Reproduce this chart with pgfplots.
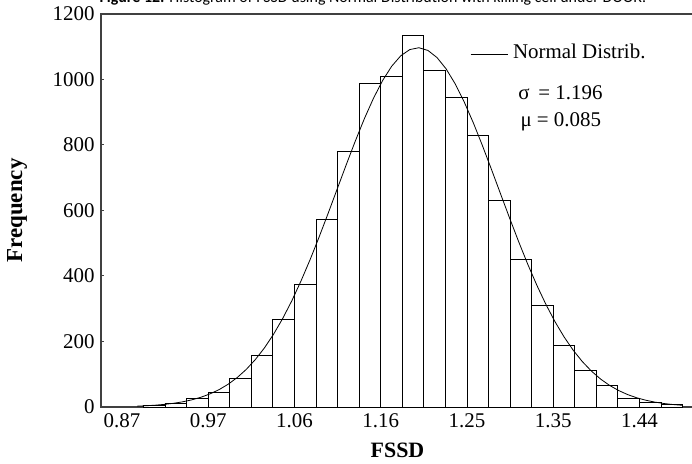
\documentclass[border=0pt]{standalone}
\usepackage{pgfplots}
\pgfplotsset{compat=1.18}
\usepackage{fontspec}
\setmainfont{Liberation Serif}
\newfontfamily\titlefont{Carlito}
\begin{document}
\begin{tikzpicture}
\begin{axis}[
  name=ax,
  scale only axis,
  width=593bp, height=393bp,
  xmin=0.8469, xmax=1.5,
  ymin=0, ymax=1200,
  clip=false,
  xtick={0.87,0.965,1.06,1.155,1.25,1.345,1.44},
  xticklabels={0.87,0.97,1.06,1.16,1.25,1.35,1.44},
  ytick={0,200,400,600,800,1000,1200},
  tick pos=left,
  tick align=inside,
  major tick length=3bp,
  x tick style={draw=none},
  y tick style={line width=1bp, black!75},
  axis line style={line width=1.2bp, black!75},
  /pgf/number format/assume math mode=true,
  /pgf/number format/1000 sep={},
  ticklabel style={font=\fontsize{21}{24}\selectfont},
  xticklabel style={yshift=-3bp},
  yticklabel style={xshift=-3bp},
  xlabel={\textbf{FSSD}},
  ylabel={\textbf{Frequency}},
  xlabel style={font=\fontsize{22}{26}\selectfont, at={(axis description cs:0.5,-0.1094)}, anchor=center},
  ylabel style={font=\fontsize{23}{26}\selectfont, at={(axis description cs:-0.1417,0.5)}, anchor=center},
  legend style={draw=none, fill=none, at={(axis description cs:0.6223,0.9033)}, anchor=west,
    font=\fontsize{21}{24}\selectfont, inner sep=0pt, column sep=5bp, nodes={inner sep=0pt}},
  legend image code/.code={\draw[#1] (0bp,-2bp) -- (37bp,-2bp);},
]
\addplot[ybar interval, fill=white, draw=black, line width=1bp, forget plot] coordinates {
(0.89375,4) (0.9175,10) (0.94125,27) (0.965,44) (0.98875,87) (1.0125,156)
(1.03625,268) (1.06,375) (1.08375,574) (1.1075,780) (1.13125,988) (1.155,1010)
(1.17875,1133) (1.2025,1026) (1.22625,945) (1.25,828) (1.27375,630) (1.2975,449)
(1.32125,311) (1.345,189) (1.36875,110) (1.3925,66) (1.41625,25) (1.44,13)
(1.46375,8) (1.4875,0)
};
\addplot[black, line width=0.8bp, mark=none] coordinates {
(0.887,2.65) (0.897,3.89) (0.907,5.63) (0.917,8.06) (0.927,11.4) (0.937,15.9)
(0.947,21.9) (0.957,29.8) (0.967,40.1) (0.977,53.1) (0.987,69.6) (0.997,90.1)
(1.007,115.1) (1.017,145.2) (1.027,180.8) (1.037,222.4) (1.047,270.2) (1.057,324.0)
(1.067,383.7) (1.077,448.7) (1.087,518.2) (1.097,590.9) (1.107,665.4) (1.117,739.8)
(1.127,812.2) (1.137,880.6) (1.147,942.7) (1.157,996.6) (1.167,1040.3) (1.177,1072.3)
(1.187,1091.4) (1.197,1097.0) (1.207,1088.7) (1.217,1066.9) (1.227,1032.4) (1.237,986.6)
(1.247,930.9) (1.257,867.4) (1.267,798.0) (1.277,725.0) (1.287,650.4) (1.297,576.2)
(1.307,504.0) (1.317,435.3) (1.327,371.3) (1.337,312.7) (1.347,260.1) (1.357,213.6)
(1.367,173.2) (1.377,138.7) (1.387,109.7) (1.397,85.6) (1.407,66.0) (1.417,50.3)
(1.427,37.8) (1.437,28.1) (1.447,20.6) (1.457,14.9) (1.467,10.6) (1.477,7.5) (1.487,5.2)
};
\addlegendentry{Normal Distrib.}
\node[anchor=base west, font=\fontsize{21}{24}\selectfont] at (axis description cs:0.698,0.7837) {σ\, = 1.196};
\node[anchor=base west, font=\fontsize{21}{24}\selectfont] at (axis description cs:0.7015,0.715) {μ = 0.085};
\node[anchor=base, font=\titlefont\fontsize{16}{19}\selectfont] at (axis description cs:0.4587,1.0295) {\textbf{Figure 12:} Histogram of FSSD using Normal Distribution with killing cell under DOOR.};
\end{axis}
\pgfresetboundingbox
\path[use as bounding box] ([xshift=-101bp,yshift=-57bp]ax.south west) rectangle ([xshift=-2bp,yshift=14bp]ax.north east);
\end{tikzpicture}
\end{document}
